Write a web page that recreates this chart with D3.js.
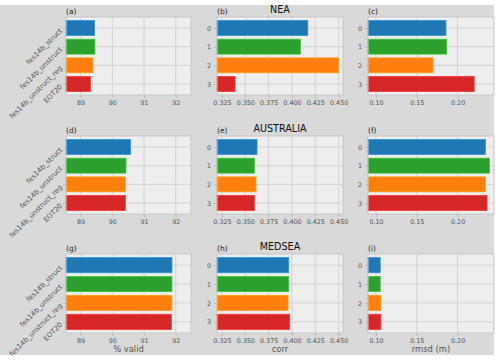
<!DOCTYPE html>
<html>
<head>
<meta charset="utf-8">
<script src="https://cdn.jsdelivr.net/npm/d3@7"></script>
<style>
  body { margin: 0; background: #fff; }
  text { font-family: "DejaVu Sans", sans-serif; }
</style>
</head>
<body>
<svg id="fig" width="500" height="361"></svg>
<script>
// model names (rows) and region names (panel rows)
var models = ["fes14b_struct", "fes14b_unstruct", "fes14b_unstruct_reg", "EOT20"];
var colors = ["#1f77b4", "#2ca02c", "#ff7f0e", "#d62728"];
var regions = ["NEA", "AUSTRALIA", "MEDSEA"];
var letters = ["a", "b", "c", "d", "e", "f", "g", "h", "i"];

// % valid
var validNEA = [89.44, 89.45, 89.39, 89.31];
var validAUS = [90.57, 90.43, 90.41, 90.41];
var validMED = [91.88, 91.88, 91.88, 91.86];
// corr
var corrNEA = [0.417, 0.409, 0.450, 0.339];
var corrAUS = [0.3626, 0.3597, 0.3615, 0.3597];
var corrMED = [0.3965, 0.3965, 0.3958, 0.3976];
// rmsd (m)
var rmsdNEA = [0.1857, 0.1866, 0.1699, 0.2203];
var rmsdAUS = [0.2341, 0.2390, 0.2341, 0.2361];
var rmsdMED = [0.1052, 0.1052, 0.106, 0.106];

var xLabels = ["% valid", "corr", "rmsd (m)"];
var xDomains = [[88.54, 92.48], [0.3197, 0.4547], [0.0902, 0.2446]];
var xTicks = [[89, 90, 91, 92], [0.325, 0.35, 0.375, 0.4, 0.425, 0.45], [0.10, 0.15, 0.20]];
var xFormats = [d3.format("d"), d3.format(".3f"), d3.format(".2f")];

var panels = [
  [validNEA, corrNEA, rmsdNEA],
  [validAUS, corrAUS, rmsdAUS],
  [validMED, corrMED, rmsdMED]
];

var colX = [[66, 191], [217, 343], [368, 494]];
var rowY = [[17, 95], [136, 214], [254, 333]];

var svg = d3.select("#fig");
svg.append("rect").attr("x", 0).attr("y", 5).attr("width", 494).attr("height", 350).attr("fill", "#d9d9d9");

for (var r = 0; r < 3; r++) {
  for (var c = 0; c < 3; c++) {
    drawPanel(r, c);
  }
}

function drawPanel(r, c) {
  var x0 = colX[c][0], x1 = colX[c][1], y0 = rowY[r][0], y1 = rowY[r][1];
  var vals = panels[r][c];
  var xScale = d3.scaleLinear().domain(xDomains[c]).range([x0, x1]);
  var yScale = d3.scaleLinear().domain([-0.59, 3.59]).range([y0, y1]);
  var g = svg.append("g");

  g.append("rect").attr("x", x0).attr("y", y0).attr("width", x1 - x0).attr("height", y1 - y0)
    .attr("fill", "#eeeeee");

  // grid
  g.selectAll(".vg").data(xTicks[c]).enter().append("line")
    .attr("x1", d => xScale(d)).attr("x2", d => xScale(d))
    .attr("y1", y0).attr("y2", y1)
    .attr("stroke", "#cbcbcb").attr("stroke-width", 0.8);
  g.selectAll(".hg").data(d3.range(4)).enter().append("line")
    .attr("x1", x0).attr("x2", x1)
    .attr("y1", d => yScale(d)).attr("y2", d => yScale(d))
    .attr("stroke", "#cbcbcb").attr("stroke-width", 0.8);

  // bars
  g.selectAll(".bar").data(vals).enter().append("rect")
    .attr("x", x0)
    .attr("y", (d, i) => yScale(i - 0.4))
    .attr("width", d => Math.max(0, xScale(d) - x0))
    .attr("height", (d, i) => yScale(i + 0.4) - yScale(i - 0.4))
    .attr("fill", (d, i) => colors[i])
    .attr("stroke", (d, i) => d3.color(colors[i]).brighter(0.6))
    .attr("stroke-width", 0.8);

  // frame
  g.append("rect").attr("x", x0).attr("y", y0).attr("width", x1 - x0).attr("height", y1 - y0)
    .attr("fill", "none").attr("stroke", "#c8c8c8").attr("stroke-width", 1);

  // x axis
  var xAxis = d3.axisBottom(xScale).tickValues(xTicks[c]).tickFormat(xFormats[c])
    .tickSize(3).tickPadding(2);
  var ax = g.append("g").attr("transform", "translate(0," + y1 + ")").call(xAxis);
  ax.select(".domain").remove();
  ax.selectAll(".tick line").attr("stroke", "#bbbbbb");
  ax.selectAll("text").attr("fill", "#555").attr("font-size", 6.4)
    .attr("font-family", "DejaVu Sans");

  // y axis
  var yAxis = d3.axisLeft(yScale).tickValues([0, 1, 2, 3]).tickFormat(d3.format("d"))
    .tickSize(3).tickPadding(3);
  var ay = g.append("g").attr("transform", "translate(" + x0 + ",0)").call(yAxis);
  ay.select(".domain").remove();
  ay.selectAll(".tick line").attr("stroke", "#bbbbbb");
  if (c == 0) {
    ay.selectAll("text")
      .text(d => models[d])
      .attr("fill", "#555").attr("font-size", 7).attr("font-family", "DejaVu Sans")
      .attr("text-anchor", "end")
      .attr("x", -5).attr("y", 1).attr("dy", "0.35em")
      .attr("transform", "rotate(-45 -5 1)");
  } else {
    ay.selectAll("text").attr("fill", "#555").attr("font-size", 6.4)
      .attr("font-family", "DejaVu Sans");
  }

  // panel letter and title
  g.append("text").attr("x", x0).attr("y", y0 - 3.5)
    .attr("font-size", 7.5).attr("fill", "#222")
    .text("(" + letters[r * 3 + c] + ")");
  if (c == 1) {
    g.append("text").attr("x", (x0 + x1) / 2).attr("y", y0 - 4.5)
      .attr("text-anchor", "middle").attr("font-size", 9.6).attr("fill", "#111")
      .text(regions[r]);
  }
  if (r == 2) {
    g.append("text").attr("x", (x0 + x1) / 2).attr("y", 352)
      .attr("text-anchor", "middle").attr("font-size", 8.4).attr("fill", "#555")
      .text(xLabels[c]);
  }
}
</script>
</body>
</html>
